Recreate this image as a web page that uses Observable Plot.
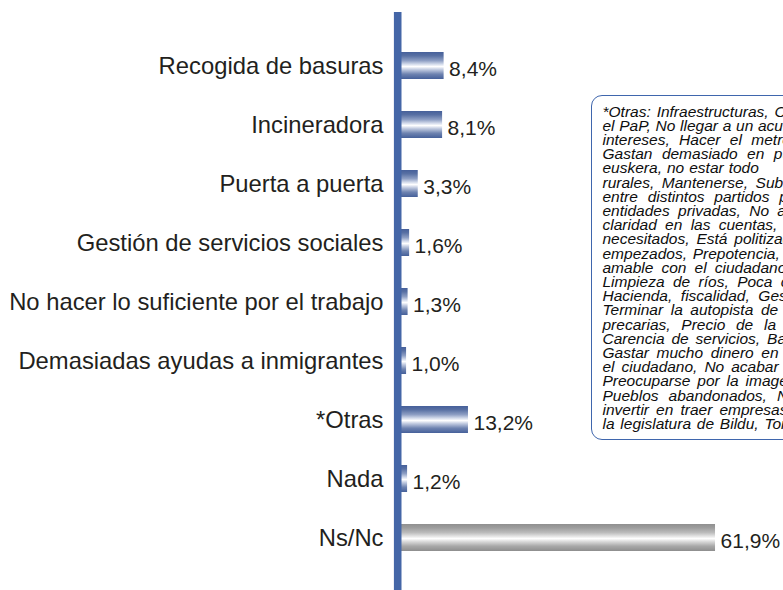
<!DOCTYPE html>
<html>
<head>
<meta charset="utf-8">
<script src="https://cdn.jsdelivr.net/npm/d3@7"></script>
<script src="https://cdn.jsdelivr.net/npm/@observablehq/plot@0.6"></script>
<style>
  html, body { margin: 0; padding: 0; background: #fff; }
  body { width: 783px; height: 590px; overflow: hidden; position: relative; }
  #chart { position: absolute; left: 0; top: 0; }
  #note {
    position: absolute; left: 591px; top: 95px; width: 330px; height: 345px;
    border: 1px solid #3f66ad; border-radius: 11px; box-sizing: border-box;
    padding: 8.5px 0 0 10.5px; background: #fff;
    font-family: "Liberation Sans", Arial, sans-serif; font-style: italic;
    font-size: 15.5px; line-height: 14.2px; color: #0e0e0e;
  }
  #note .ln { white-space: pre; }
</style>
</head>
<body>
<div id="chart"></div>
<div id="note"></div>
<script>
const categories = [
  "Recogida de basuras",
  "Incineradora",
  "Puerta a puerta",
  "Gestión de servicios sociales",
  "No hacer lo suficiente por el trabajo",
  "Demasiadas ayudas a inmigrantes",
  "*Otras",
  "Nada",
  "Ns/Nc"
];
const values = [8.4, 8.1, 3.3, 1.6, 1.3, 1.0, 13.2, 1.2, 61.9];
const grayCategories = ["Ns/Nc"];

const noteLines = [
  "*Otras: Infraestructuras, Corrupción en",
  "el PaP, No llegar a un acuerdo, Mirar sus",
  "intereses, Hacer el metro, Falta de",
  "Gastan demasiado en publicidad, El",
  "euskera, no estar todo",
  "rurales, Mantenerse, Subvenciones a",
  "entre distintos partidos políticos, Dar a",
  "entidades privadas, No ayudar, Falta de",
  "claridad en las cuentas, No ayudar a los",
  "necesitados, Está politizado, Proyectos sin",
  "empezados, Prepotencia, Ser poco",
  "amable con el ciudadano, Mala gestión,",
  "Limpieza de ríos, Poca comunicación con",
  "Hacienda, fiscalidad, Gestión de residuos,",
  "Terminar la autopista de Urola, Viviendas",
  "precarias, Precio de la vivienda, Paro,",
  "Carencia de servicios, Bajar impuestos,",
  "Gastar mucho dinero en obras, Pensar en",
  "el ciudadano, No acabar los proyectos,",
  "Preocuparse por la imagen, Juventud,",
  "Pueblos abandonados, No cumplir, No",
  "invertir en traer empresas, Lo que hizo en",
  "la legislatura de Bildu, Tortura."
];
// extra word spacing of each justified line of the note (px)
const noteWordSpacing = [1.6, 0.4, 5.1, 5.1, 0.7, 3.3, 5.5, 4, 4, 2.6, 1.5, 3.8, 4.1, 4.25, 3.3, 6.45, 2.6, 3.25, 2.7, 2.6, 5.75, 2.8, 1.5];

const data = categories.map((c, i) => ({cat: c, value: values[i], gray: grayCategories.includes(c)}));
const fmt = v => v.toFixed(1).replace(".", ",") + "%";

const plot = Plot.plot({
  width: 783,
  height: 590,
  marginLeft: 401,
  marginRight: 0,
  marginTop: 34.7,
  marginBottom: 22.1,
  style: {fontFamily: "'Liberation Sans', Arial, sans-serif", color: "#231f20", background: "transparent"},
  x: {domain: [0, 75.3], axis: null},
  y: {domain: categories, paddingInner: 0.55, paddingOuter: 0.275, axis: null},
  marks: [
    Plot.barX(data.filter(d => !d.gray), {x: "value", y: "cat", fill: "url(#gradBlue)"}),
    Plot.barX(data.filter(d => d.gray), {x: "value", y: "cat", fill: "url(#gradGray)"}),
    Plot.ruleX([0], {stroke: "#4466a7", strokeWidth: 7.6, dx: -3.8, insetTop: -22.7, insetBottom: -22.1}),
    Plot.axisY({tickSize: 0, tickPadding: 18, fontSize: 23.8, label: null, fill: "#231f20"}),
    Plot.text(data, {x: "value", y: "cat", text: d => fmt(d.value), textAnchor: "start", dx: 5, dy: 3, fontSize: 21, fill: "#231f20"})
  ]
});

const svg = d3.select(plot);
const defs = svg.insert("defs", ":first-child");
function grad(id, stops) {
  const g = defs.append("linearGradient").attr("id", id)
    .attr("x1", 0).attr("y1", 0).attr("x2", 0).attr("y2", 1);
  stops.forEach(([o, c]) => g.append("stop").attr("offset", o).attr("stop-color", c));
}
grad("gradBlue", [
  [0, "#46609a"], [0.14, "#5870a3"], [0.32, "#8e9fc4"], [0.46, "#d7deed"],
  [0.54, "#ffffff"], [0.64, "#c6cfe3"], [0.82, "#6e83b0"], [1, "#45609a"]
]);
grad("gradGray", [
  [0, "#909090"], [0.14, "#9d9d9d"], [0.32, "#bcbcbc"], [0.46, "#e6e6e6"],
  [0.54, "#ffffff"], [0.64, "#dddddd"], [0.82, "#a8a8a8"], [1, "#8e8e8e"]
]);

document.getElementById("chart").appendChild(plot);

const note = document.getElementById("note");
noteLines.forEach((t, i) => {
  const div = document.createElement("div");
  div.className = "ln";
  div.style.wordSpacing = noteWordSpacing[i] + "px";
  div.textContent = t;
  note.appendChild(div);
});
</script>
</body>
</html>
